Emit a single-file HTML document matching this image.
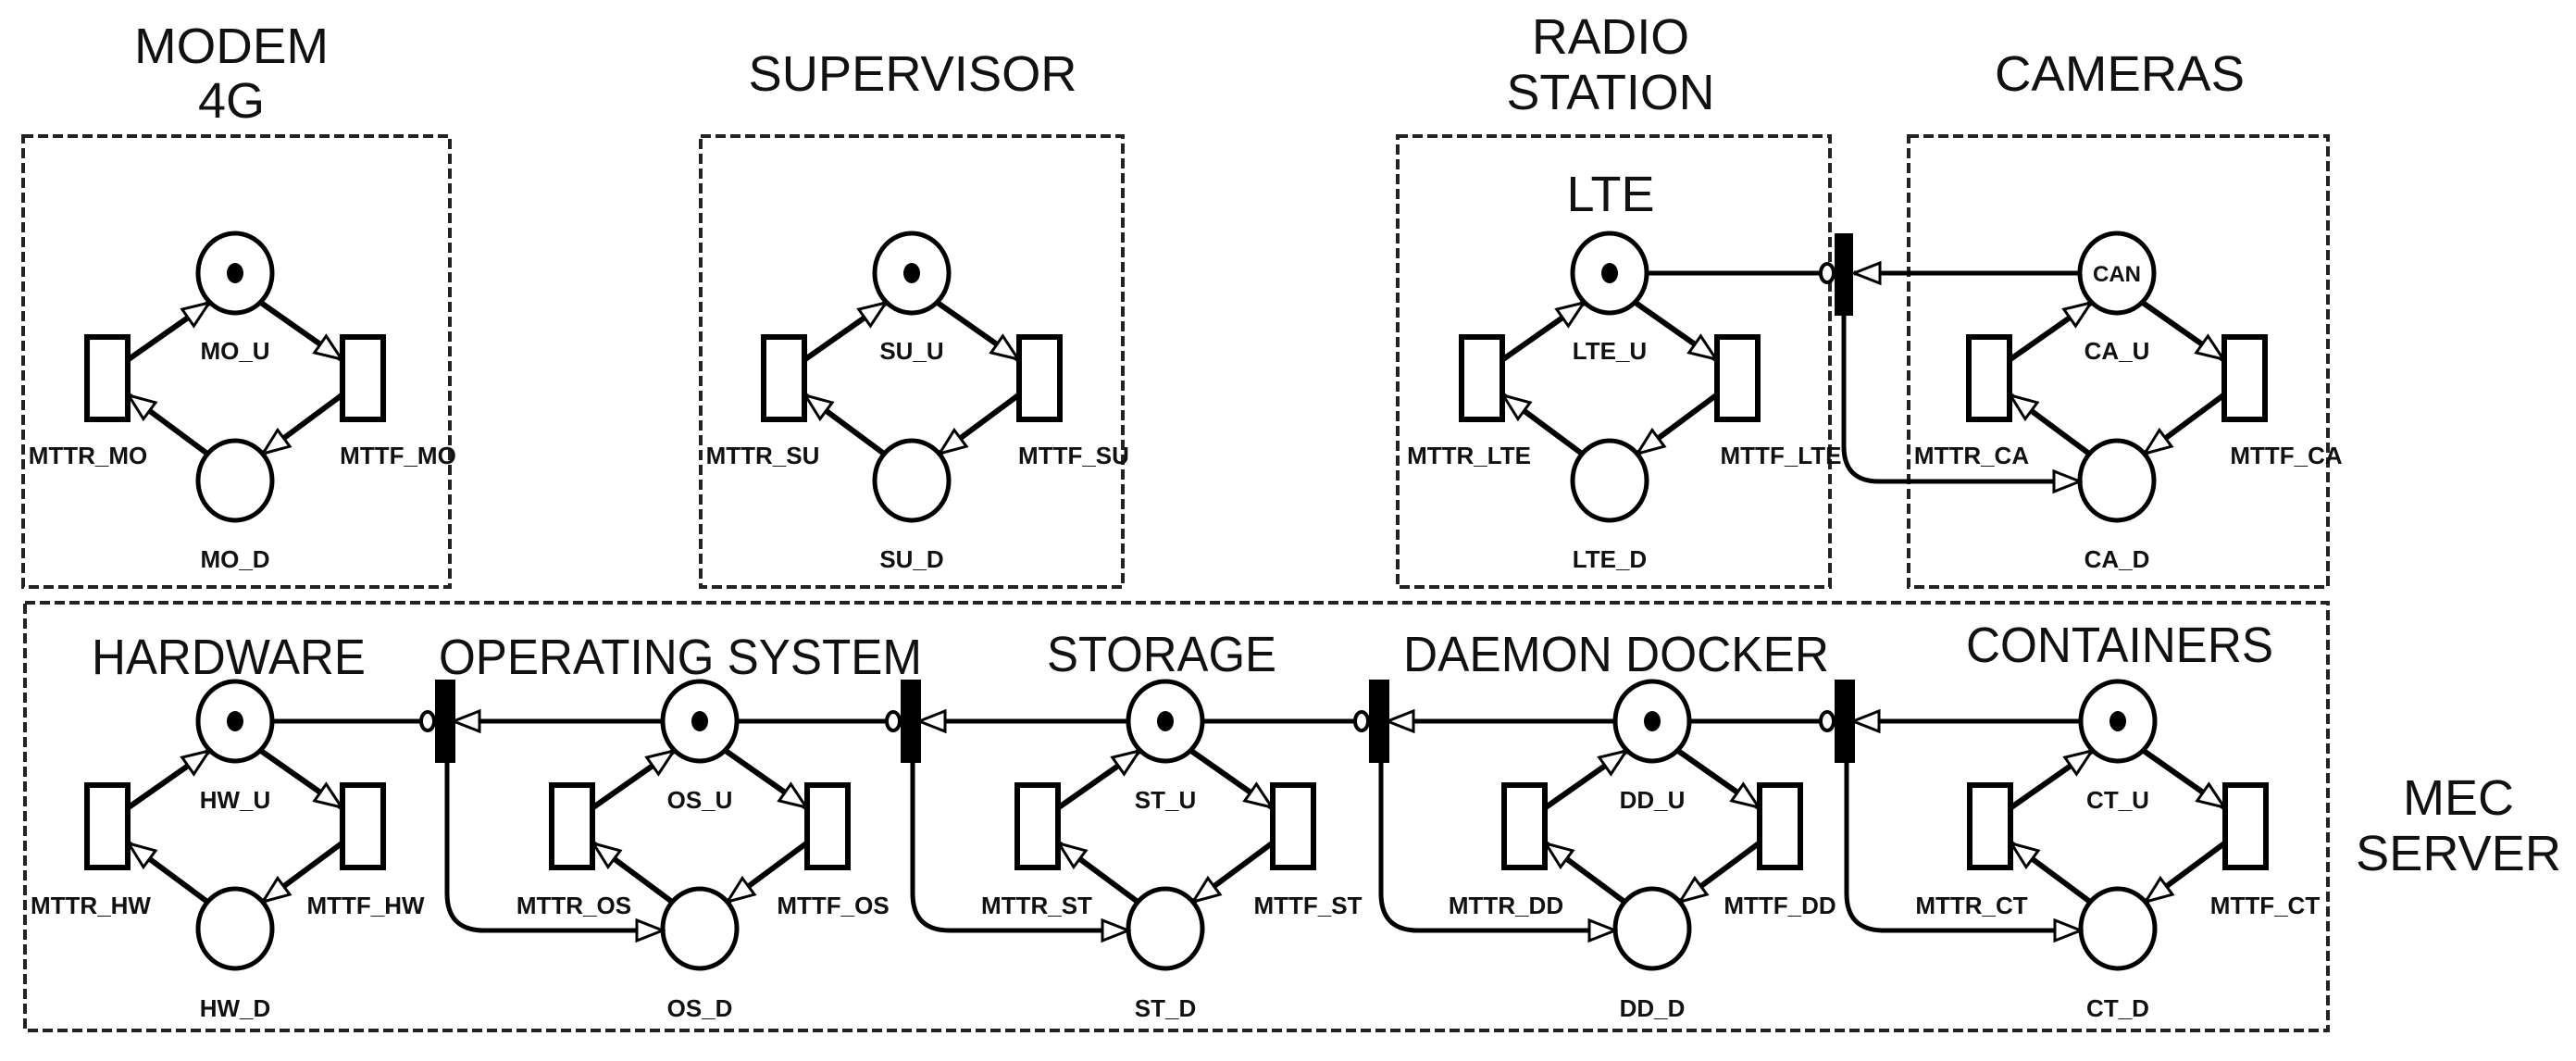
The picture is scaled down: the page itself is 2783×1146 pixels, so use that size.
<!DOCTYPE html>
<html><head><meta charset="utf-8"><style>
html,body{margin:0;padding:0;background:#fff}
svg{display:block}
text{font-family:"Liberation Sans",Arial,sans-serif;fill:#111}
.t{font-size:54px}
.s{font-size:26px;font-weight:bold}
</style></head><body>
<svg width="2783" height="1146" viewBox="0 0 2783 1146" xmlns="http://www.w3.org/2000/svg">
<defs>
<marker id="a" markerUnits="userSpaceOnUse" markerWidth="34" markerHeight="28" viewBox="0 0 34 28" refX="31" refY="14" orient="auto">
<path d="M31,14 L3,3 L3,25 Z" fill="#fff" stroke="#000" stroke-width="3"/>
</marker>
<g id="m" stroke="#000" fill="none">
<g stroke-width="6">
<line x1="28" y1="32" x2="115" y2="93" marker-end="url(#a)"/>
<line x1="115" y1="132" x2="30" y2="195" marker-end="url(#a)"/>
<line x1="-30" y1="195" x2="-115" y2="132" marker-end="url(#a)"/>
<line x1="-115" y1="93" x2="-28" y2="32" marker-end="url(#a)"/>
</g>
<ellipse cx="0" cy="0" rx="40" ry="43" fill="#fff" stroke-width="5"/>
<ellipse cx="0" cy="224" rx="40" ry="43" fill="#fff" stroke-width="5"/>
<rect x="-160" y="69" width="44" height="89" fill="#fff" stroke-width="6"/>
<rect x="116" y="69" width="44" height="89" fill="#fff" stroke-width="6"/>
</g>
</defs>
<g fill="none" stroke="#222" stroke-width="4" stroke-dasharray="11,5">
<rect x="25" y="147" width="461" height="487"/>
<rect x="757" y="147" width="456" height="487"/>
<rect x="1510" y="147" width="467" height="487"/>
<rect x="2062" y="147" width="453" height="487"/>
<rect x="27" y="651" width="2488" height="462"/>
</g>
<use href="#m" x="254" y="295"/>
<use href="#m" x="985" y="295"/>
<use href="#m" x="1739" y="295"/>
<use href="#m" x="2287" y="295"/>
<use href="#m" x="254" y="779"/>
<use href="#m" x="756" y="779"/>
<use href="#m" x="1259" y="779"/>
<use href="#m" x="1785" y="779"/>
<use href="#m" x="2288" y="779"/>
<g fill="#000">
<ellipse cx="254" cy="295" rx="9" ry="11"/>
<ellipse cx="985" cy="295" rx="9" ry="11"/>
<ellipse cx="1739" cy="295" rx="9" ry="11"/>
<ellipse cx="254" cy="779" rx="9" ry="11"/>
<ellipse cx="756" cy="779" rx="9" ry="11"/>
<ellipse cx="1259" cy="779" rx="9" ry="11"/>
<ellipse cx="1785" cy="779" rx="9" ry="11"/>
<ellipse cx="2288" cy="779" rx="9" ry="11"/>
</g>
<g stroke="#000" stroke-width="5" fill="none">
<line x1="1779" y1="295" x2="1973" y2="295"/>
<line x1="2247" y1="295" x2="2003" y2="295" marker-end="url(#a)"/>
<path d="M1992,341 V482 Q1992,520 2030,520 H2247" marker-end="url(#a)"/>
<ellipse cx="1974" cy="295" rx="7" ry="10" fill="#fff" stroke-width="4"/>
<rect x="1982" y="252" width="20" height="89" fill="#000" stroke="none"/>

<line x1="294" y1="779" x2="461" y2="779"/>
<line x1="716" y1="779" x2="490" y2="779" marker-end="url(#a)"/>
<path d="M483,824 V965 Q483,1005 523,1005 H716" marker-end="url(#a)"/>
<ellipse cx="462" cy="779" rx="7" ry="10" fill="#fff" stroke-width="4"/>
<rect x="470" y="734" width="22" height="90" fill="#000" stroke="none"/>

<line x1="796" y1="779" x2="964" y2="779"/>
<line x1="1219" y1="779" x2="993" y2="779" marker-end="url(#a)"/>
<path d="M986,824 V965 Q986,1005 1026,1005 H1219" marker-end="url(#a)"/>
<ellipse cx="965" cy="779" rx="7" ry="10" fill="#fff" stroke-width="4"/>
<rect x="973" y="734" width="22" height="90" fill="#000" stroke="none"/>

<line x1="1299" y1="779" x2="1470" y2="779"/>
<line x1="1745" y1="779" x2="1499" y2="779" marker-end="url(#a)"/>
<path d="M1492,824 V965 Q1492,1005 1532,1005 H1745" marker-end="url(#a)"/>
<ellipse cx="1471" cy="779" rx="7" ry="10" fill="#fff" stroke-width="4"/>
<rect x="1479" y="734" width="22" height="90" fill="#000" stroke="none"/>

<line x1="1825" y1="779" x2="1973" y2="779"/>
<line x1="2248" y1="779" x2="2002" y2="779" marker-end="url(#a)"/>
<path d="M1995,824 V965 Q1995,1005 2035,1005 H2248" marker-end="url(#a)"/>
<ellipse cx="1974" cy="779" rx="7" ry="10" fill="#fff" stroke-width="4"/>
<rect x="1982" y="734" width="22" height="90" fill="#000" stroke="none"/>
</g>
<g class="t" text-anchor="middle">
<text x="250" y="68" textLength="210" lengthAdjust="spacingAndGlyphs">MODEM</text>
<text x="250" y="127">4G</text>
<text x="986" y="98" textLength="355" lengthAdjust="spacingAndGlyphs">SUPERVISOR</text>
<text x="1740" y="58" textLength="170" lengthAdjust="spacingAndGlyphs">RADIO</text>
<text x="1740" y="118" textLength="225" lengthAdjust="spacingAndGlyphs">STATION</text>
<text x="2290" y="98" textLength="270" lengthAdjust="spacingAndGlyphs">CAMERAS</text>
<text x="1740" y="228">LTE</text>
<text x="247" y="728" textLength="296" lengthAdjust="spacingAndGlyphs">HARDWARE</text>
<text x="735" y="728" textLength="522" lengthAdjust="spacingAndGlyphs">OPERATING SYSTEM</text>
<text x="1255" y="725" textLength="248" lengthAdjust="spacingAndGlyphs">STORAGE</text>
<text x="1746" y="725" textLength="460" lengthAdjust="spacingAndGlyphs">DAEMON DOCKER</text>
<text x="2290" y="715" textLength="332" lengthAdjust="spacingAndGlyphs">CONTAINERS</text>
<text x="2656" y="880">MEC</text>
<text x="2656" y="940" textLength="222" lengthAdjust="spacingAndGlyphs">SERVER</text>
</g>
<g class="s" text-anchor="middle">
<text x="2287" y="304" font-size="24">CAN</text>
<text x="254" y="388">MO_U</text><text x="254" y="613">MO_D</text>
<text x="95" y="501">MTTR_MO</text><text x="430" y="501">MTTF_MO</text>
<text x="985" y="388">SU_U</text><text x="985" y="613">SU_D</text>
<text x="824" y="501">MTTR_SU</text><text x="1160" y="501">MTTF_SU</text>
<text x="1739" y="388">LTE_U</text><text x="1739" y="613">LTE_D</text>
<text x="1587" y="501">MTTR_LTE</text><text x="1924" y="501">MTTF_LTE</text>
<text x="2287" y="388">CA_U</text><text x="2287" y="613">CA_D</text>
<text x="2130" y="501">MTTR_CA</text><text x="2470" y="501">MTTF_CA</text>

<text x="254" y="873">HW_U</text><text x="254" y="1098">HW_D</text>
<text x="98" y="987">MTTR_HW</text><text x="395" y="987">MTTF_HW</text>
<text x="756" y="873">OS_U</text><text x="756" y="1098">OS_D</text>
<text x="620" y="987">MTTR_OS</text><text x="900" y="987">MTTF_OS</text>
<text x="1259" y="873">ST_U</text><text x="1259" y="1098">ST_D</text>
<text x="1120" y="987">MTTR_ST</text><text x="1413" y="987">MTTF_ST</text>
<text x="1785" y="873">DD_U</text><text x="1785" y="1098">DD_D</text>
<text x="1627" y="987">MTTR_DD</text><text x="1923" y="987">MTTF_DD</text>
<text x="2288" y="873">CT_U</text><text x="2288" y="1098">CT_D</text>
<text x="2130" y="987">MTTR_CT</text><text x="2447" y="987">MTTF_CT</text>
</g>
</svg>
</body></html>
